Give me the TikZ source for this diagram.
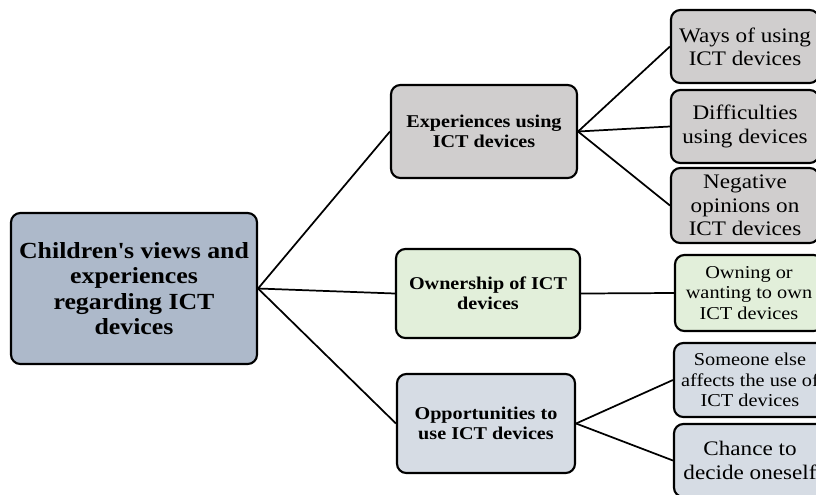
\documentclass[tikz,border=0pt]{standalone}
\usepackage{fontspec}
\setmainfont{Liberation Serif}[FakeStretch=1.12]
\definecolor{rootc}{HTML}{ADB9CA}
\definecolor{expc}{HTML}{D0CECE}
\definecolor{ownc}{HTML}{E2EFDA}
\definecolor{oppc}{HTML}{D6DCE4}
\begin{document}
\begin{tikzpicture}[x=0.75pt,y=-0.75pt,
  box/.style={draw=black, line width=1.6pt, rounded corners=7pt, align=center, inner sep=0pt},
  link/.style={draw=black, line width=1.3pt},
  rootfont/.style={font=\fontsize{17.3}{18.9}\selectfont\bfseries},
  midfont/.style={font=\fontsize{13.5}{15}\selectfont\bfseries},
  bigleaf/.style={font=\fontsize{15.5}{17.5}\selectfont},
  smallleaf/.style={font=\fontsize{13.6}{15.2}\selectfont}]
\useasboundingbox (0,0) rectangle (816,494);
\clip (0,0) rectangle (816,494);
% root
\node[box, rootfont, fill=rootc, minimum width=184.5pt, minimum height=113.25pt] (root) at (134,288.5)
  {Children\textquotesingle s views and\\experiences\\regarding ICT\\devices};
% middle level
\node[box, midfont, fill=expc, minimum width=139.5pt, minimum height=69.75pt] (exp) at (484,131.5)
  {Experiences using\\ICT devices};
\node[box, midfont, fill=ownc, minimum width=138pt, minimum height=66.75pt] (own) at (488,293.5)
  {Ownership of ICT\\devices};
\node[box, midfont, fill=oppc, minimum width=133.5pt, minimum height=74.25pt] (opp) at (486,423.5)
  {Opportunities to\\use ICT devices};
% leaves
\node[box, bigleaf, fill=expc, minimum width=111pt, minimum height=54.75pt] (ways) at (745,46.5)
  {Ways of using\\ICT devices};
\node[box, bigleaf, fill=expc, minimum width=111pt, minimum height=54.75pt] (diff) at (745,126.5)
  {Difficulties\\using devices};
\node[box, bigleaf, fill=expc, minimum width=111pt, minimum height=56.25pt] (neg) at (745,205.5)
  {Negative\\opinions on\\ICT devices};
\node[box, smallleaf, fill=ownc, minimum width=111pt, minimum height=57pt] (own2) at (749,293)
  {Owning or\\wanting to own\\ICT devices};
\node[box, smallleaf, fill=oppc, minimum width=114pt, minimum height=55.5pt] (some) at (750,380)
  {Someone else\\affects the use of\\ICT devices};
\node[box, bigleaf, fill=oppc, minimum width=114pt, minimum height=54.75pt] (chance) at (750,460.5)
  {Chance to\\decide oneself};
% connectors
\draw[link] (root.east) -- (exp.west);
\draw[link] (root.east) -- (own.west);
\draw[link] (root.east) -- (opp.west);
\draw[link] (exp.east) -- (ways.west);
\draw[link] (exp.east) -- (diff.west);
\draw[link] (exp.east) -- (neg.west);
\draw[link] (own.east) -- (own2.west);
\draw[link] (opp.east) -- (some.west);
\draw[link] (opp.east) -- (chance.west);
\end{tikzpicture}
\end{document}
